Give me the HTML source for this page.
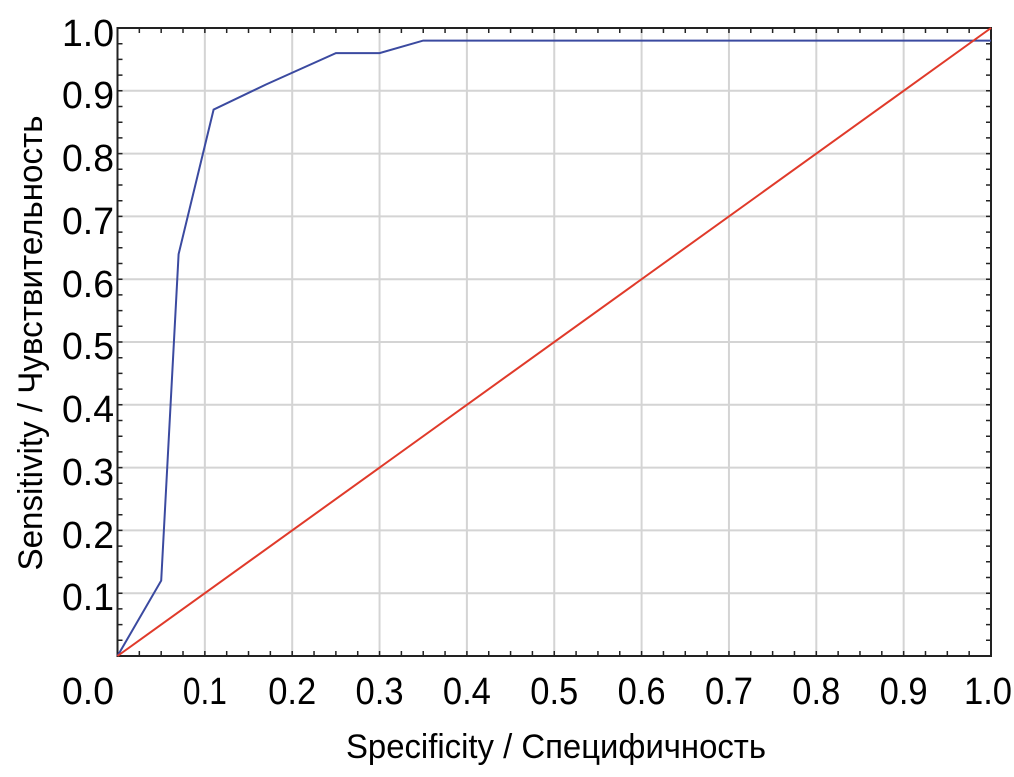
<!DOCTYPE html>
<html><head><meta charset="utf-8"><style>
html,body{margin:0;padding:0;background:#fff;}
svg text{font-family:"Liberation Sans","DejaVu Sans",sans-serif;fill:#000;}
</style></head><body>
<svg width="1014" height="772" viewBox="0 0 1014 772" xmlns="http://www.w3.org/2000/svg">
<rect width="1014" height="772" fill="#fff"/>
<g stroke="#d4d4d4" stroke-width="2">
<line x1="204.85" y1="28" x2="204.85" y2="656"/><line x1="292.2" y1="28" x2="292.2" y2="656"/><line x1="379.55" y1="28" x2="379.55" y2="656"/><line x1="466.9" y1="28" x2="466.9" y2="656"/><line x1="554.25" y1="28" x2="554.25" y2="656"/><line x1="641.6" y1="28" x2="641.6" y2="656"/><line x1="728.95" y1="28" x2="728.95" y2="656"/><line x1="816.3" y1="28" x2="816.3" y2="656"/><line x1="903.65" y1="28" x2="903.65" y2="656"/>
<line x1="117.5" y1="593.2" x2="991" y2="593.2"/><line x1="117.5" y1="530.4" x2="991" y2="530.4"/><line x1="117.5" y1="467.6" x2="991" y2="467.6"/><line x1="117.5" y1="404.8" x2="991" y2="404.8"/><line x1="117.5" y1="342" x2="991" y2="342"/><line x1="117.5" y1="279.2" x2="991" y2="279.2"/><line x1="117.5" y1="216.4" x2="991" y2="216.4"/><line x1="117.5" y1="153.6" x2="991" y2="153.6"/><line x1="117.5" y1="90.8" x2="991" y2="90.8"/>
</g>
<g stroke="#222" stroke-width="5">
<line x1="116.75" y1="653.5" x2="991" y2="653.5" stroke-dasharray="1.5 20.3375"/>
<line x1="116.75" y1="30.5" x2="991" y2="30.5" stroke-dasharray="1.5 20.3375"/>
<line x1="120" y1="656.75" x2="120" y2="28" stroke-dasharray="1.5 14.2"/>
<line x1="988.5" y1="656.75" x2="988.5" y2="28" stroke-dasharray="1.5 14.2"/>
</g>
<rect x="117.5" y="28" width="873.5" height="628" fill="none" stroke="#222" stroke-width="2"/>
<polyline fill="none" stroke="#3b4aa0" stroke-width="2" points="117.5,656 161.2,580.6 178.6,254.1 213.6,109.6 266,84.5 335.9,53.1 379.6,53.1 423.2,40.6 991,40.6"/>
<line x1="117.5" y1="656" x2="991" y2="28" stroke="#e03a2a" stroke-width="2"/>
<g font-size="38">
<text x="88" y="46" text-anchor="middle" textLength="52" lengthAdjust="spacingAndGlyphs">1.0</text>
<text x="88" y="108" text-anchor="middle" textLength="52" lengthAdjust="spacingAndGlyphs">0.9</text>
<text x="88" y="171" text-anchor="middle" textLength="52" lengthAdjust="spacingAndGlyphs">0.8</text>
<text x="88" y="234" text-anchor="middle" textLength="52" lengthAdjust="spacingAndGlyphs">0.7</text>
<text x="88" y="297" text-anchor="middle" textLength="52" lengthAdjust="spacingAndGlyphs">0.6</text>
<text x="88" y="359" text-anchor="middle" textLength="52" lengthAdjust="spacingAndGlyphs">0.5</text>
<text x="88" y="422" text-anchor="middle" textLength="52" lengthAdjust="spacingAndGlyphs">0.4</text>
<text x="88" y="485" text-anchor="middle" textLength="52" lengthAdjust="spacingAndGlyphs">0.3</text>
<text x="88" y="548" text-anchor="middle" textLength="52" lengthAdjust="spacingAndGlyphs">0.2</text>
<text x="88" y="610" text-anchor="middle" textLength="52" lengthAdjust="spacingAndGlyphs">0.1</text>
<text x="88" y="704" text-anchor="middle" textLength="52" lengthAdjust="spacingAndGlyphs">0.0</text>
<text x="204.85" y="704" text-anchor="middle" textLength="44" lengthAdjust="spacingAndGlyphs">0.1</text>
<text x="292.2" y="704" text-anchor="middle" textLength="48" lengthAdjust="spacingAndGlyphs">0.2</text>
<text x="379.55" y="704" text-anchor="middle" textLength="48" lengthAdjust="spacingAndGlyphs">0.3</text>
<text x="466.9" y="704" text-anchor="middle" textLength="48" lengthAdjust="spacingAndGlyphs">0.4</text>
<text x="554.25" y="704" text-anchor="middle" textLength="48" lengthAdjust="spacingAndGlyphs">0.5</text>
<text x="641.6" y="704" text-anchor="middle" textLength="48" lengthAdjust="spacingAndGlyphs">0.6</text>
<text x="728.95" y="704" text-anchor="middle" textLength="48" lengthAdjust="spacingAndGlyphs">0.7</text>
<text x="816.3" y="704" text-anchor="middle" textLength="48" lengthAdjust="spacingAndGlyphs">0.8</text>
<text x="903.65" y="704" text-anchor="middle" textLength="48" lengthAdjust="spacingAndGlyphs">0.9</text>
<text x="988" y="704" text-anchor="middle" textLength="48" lengthAdjust="spacingAndGlyphs">1.0</text>
</g>
<text x="556" y="758" font-size="34" text-anchor="middle" textLength="420" lengthAdjust="spacingAndGlyphs">Specificity / Специфичность</text>
<text transform="translate(42,343) rotate(-90)" font-size="34" text-anchor="middle" textLength="455" lengthAdjust="spacingAndGlyphs">Sensitivity / Чувствительность</text>
</svg>
</body></html>
